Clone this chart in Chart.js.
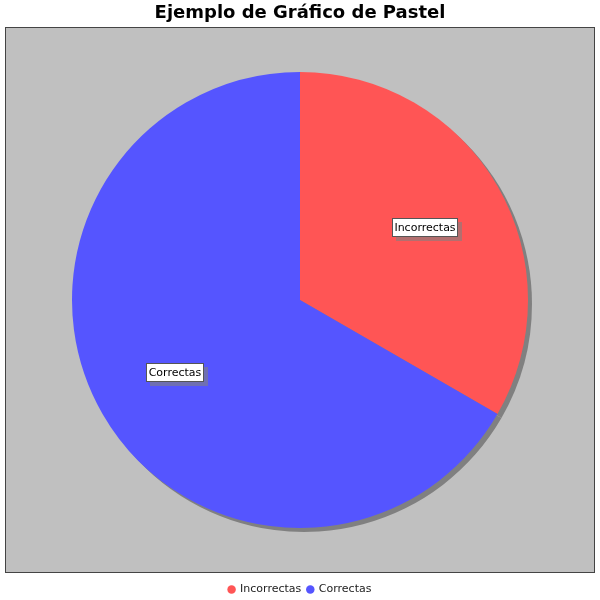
<!DOCTYPE html>
<html>
<head>
<meta charset="utf-8">
<script src="https://cdn.jsdelivr.net/npm/chart.js@4"></script>
<style>
  html, body { margin: 0; padding: 0; background: #fff; }
  #contenedor { width: 600px; height: 600px; }
</style>
</head>
<body>
<div id="contenedor"><canvas id="graficoPastel"></canvas></div>
<script>
    // Datos del gráfico
    var categorias = ['Incorrectas', 'Correctas'];
    var valores = [10, 20];
    var colores = ['#FF5555', '#5555FF'];

    // Fondo gris del área de trazado (estilo JFreeChart)
    var fondoPlot = {
        id: 'fondoPlot',
        beforeDraw: function (chart) {
            var ctx = chart.ctx, a = chart.chartArea;
            ctx.save();
            ctx.fillStyle = '#fff';
            ctx.fillRect(0, 0, chart.width, chart.height);
            var x = a.left + 5, y = Math.round(a.top + 5), w = a.right - a.left - 10;
            var h = Math.round(a.bottom - 5) - y;
            ctx.fillStyle = '#C0C0C0';
            ctx.fillRect(x, y, w, h);
            ctx.strokeStyle = '#444';
            ctx.lineWidth = 1;
            ctx.strokeRect(Math.round(x) + 0.5, y + 0.5, Math.round(w) - 1, h - 1);
            ctx.restore();
        }
    };

    // Sombra del pastel
    var sombra = {
        id: 'sombra',
        beforeDatasetsDraw: function (chart) {
            var ctx = chart.ctx;
            var arcos = chart.getDatasetMeta(0).data;
            ctx.save();
            ctx.fillStyle = '#808080';
            arcos.forEach(function (arco) {
                var p = arco.getProps(['x', 'y', 'startAngle', 'endAngle', 'outerRadius']);
                ctx.beginPath();
                ctx.moveTo(p.x + 4, p.y + 4);
                ctx.arc(p.x + 4, p.y + 4, p.outerRadius, p.startAngle, p.endAngle);
                ctx.closePath();
                ctx.fill();
            });
            ctx.restore();
        }
    };

    // Etiquetas con caja blanca
    var etiquetas = {
        id: 'etiquetas',
        afterDatasetsDraw: function (chart) {
            var ctx = chart.ctx;
            var arcos = chart.getDatasetMeta(0).data;
            ctx.save();
            ctx.font = '11px "DejaVu Sans"';
            ctx.textBaseline = 'middle';
            ctx.textAlign = 'center';
            arcos.forEach(function (arco, i) {
                var p = arco.getProps(['x', 'y', 'startAngle', 'endAngle', 'outerRadius']);
                var medio = (p.startAngle + p.endAngle) / 2;
                var cx = p.x + Math.cos(medio) * p.outerRadius * 0.635;
                var cy = p.y + Math.sin(medio) * p.outerRadius * 0.635;
                var texto = categorias[i];
                var w = Math.round(ctx.measureText(texto).width) + 5;
                var h = 19;
                var x0 = Math.round(cx - w / 2), y0 = Math.round(cy - h / 2);
                ctx.fillStyle = 'rgba(128,128,128,0.6)';
                ctx.fillRect(x0 + 4, y0 + 4, w, h);
                ctx.fillStyle = '#fff';
                ctx.fillRect(x0, y0, w, h);
                ctx.strokeStyle = '#555';
                ctx.lineWidth = 1;
                ctx.strokeRect(x0 + 0.5, y0 + 0.5, w - 1, h - 1);
                ctx.fillStyle = '#000';
                ctx.fillText(texto, x0 + w / 2, y0 + h / 2 + 0.5);
            });
            ctx.restore();
        }
    };

    var ctx = document.getElementById('graficoPastel').getContext('2d');

    var graficoPastel = new Chart(ctx, {
        type: 'pie',
        data: {
            labels: categorias,
            datasets: [{
                data: valores,
                backgroundColor: colores,
                borderWidth: 0,
                radius: 228
            }]
        },
        options: {
            responsive: true,
            maintainAspectRatio: false,
            animation: false,
            events: [],
            layout: { padding: { top: 0, left: 0, right: 0, bottom: -5 } },
            plugins: {
                title: {
                    display: true,
                    text: 'Ejemplo de Gráfico de Pastel',
                    color: '#000',
                    font: { family: '"DejaVu Sans"', size: 18, weight: 'bold', lineHeight: 1.0 },
                    padding: { top: 4, bottom: 0 }
                },
                legend: {
                    position: 'bottom',
                    labels: {
                        usePointStyle: true,
                        pointStyle: 'circle',
                        boxWidth: 6,
                        boxHeight: 6,
                        padding: 6,
                        color: '#222',
                        font: { family: '"DejaVu Sans"', size: 11 }
                    }
                },
                tooltip: { enabled: false }
            }
        },
        plugins: [fondoPlot, sombra, etiquetas]
    });
</script>
</body>
</html>
